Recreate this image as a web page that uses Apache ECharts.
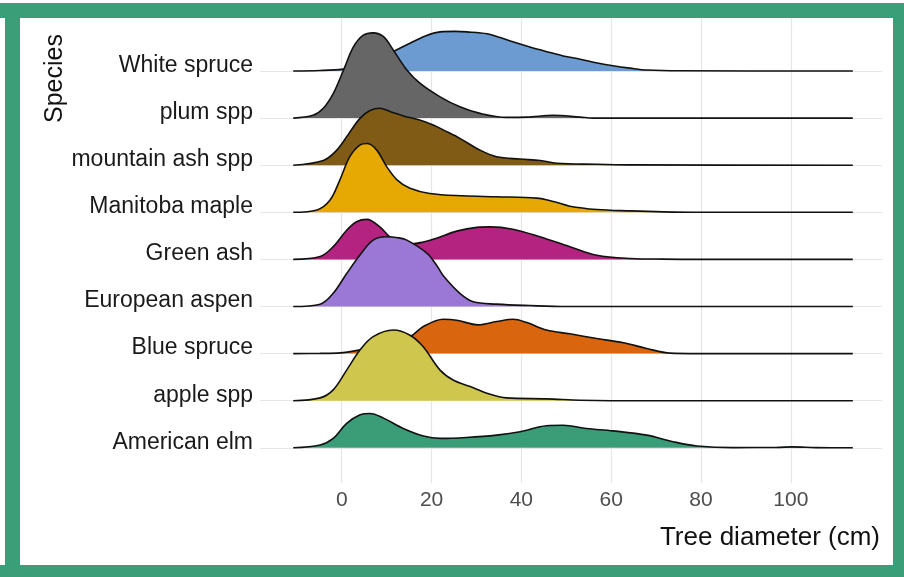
<!DOCTYPE html>
<html>
<head>
<meta charset="utf-8">
<script src="https://cdn.jsdelivr.net/npm/echarts@6/dist/echarts.min.js"></script>
<style>
html,body{margin:0;padding:0;background:#fff;}
#chart{width:904px;height:577px;}
</style>
</head>
<body>
<div id="chart"></div>
<script>
// rows listed bottom to top
const species = ['American elm','apple spp','Blue spruce','European aspen','Green ash','Manitoba maple','mountain ash spp','plum spp','White spruce'];
const fills = ['#3a9d78','#cfc64e','#d9650e','#9b78d6','#b3237f','#e6a802','#7f5b15','#666666','#6b9bd1'];
const xTicks = [0,20,40,60,80,100];

// density curves: [diameter (cm), scaled density]
const americanElm = [[-10.8,0],[-4.8,0.06],[-1.9,0.2],[1.1,0.52],[4.1,0.7],[6.3,0.73],[9.3,0.63],[13.7,0.41],[18.2,0.25],[21.9,0.2],[27.8,0.22],[34.5,0.27],[39.7,0.34],[45.6,0.47],[49.3,0.48],[54.5,0.41],[60.4,0.36],[67.9,0.27],[73.8,0.13],[79.1,0.04],[87.2,0.004],[97,0.01],[100.4,0.02],[105.6,0.004],[113.8,0]];
const appleSpp = [[-10.8,0],[-4.8,0.06],[-1.9,0.23],[1.1,0.65],[4.1,1.08],[7,1.36],[11.5,1.5],[15.2,1.39],[18.1,1.15],[21.9,0.65],[24.8,0.44],[28.6,0.3],[32.3,0.16],[36.7,0.06],[45.6,0.04],[53.1,0.01],[60,0],[113.8,0]];
const blueSpruce = [[-10.8,0],[-4.8,0.004],[-0.4,0.015],[4.1,0.08],[7.4,0.15],[10.3,0.23],[15.2,0.36],[18.1,0.57],[22.6,0.73],[25.6,0.71],[30.4,0.61],[34.5,0.68],[38.2,0.73],[41.2,0.66],[45.6,0.5],[50.8,0.42],[56.8,0.32],[62.7,0.23],[67.9,0.11],[73.1,0.01],[79.1,0],[113.8,0]];
const europeanAspen = [[-10.8,0],[-4.8,0.05],[-1.9,0.28],[1.1,0.7],[4.1,1.1],[7,1.41],[10,1.48],[12.5,1.46],[14.5,1.41],[19,1.13],[21.3,0.85],[22.8,0.63],[26.3,0.28],[29.3,0.1],[34.5,0.05],[41.9,0.02],[50,0],[113.8,0]];
const greenAsh = [[-10.8,0],[-4.8,0.06],[-1.9,0.27],[1.1,0.62],[3.3,0.8],[5.6,0.85],[8.5,0.69],[10.7,0.48],[13.4,0.35],[15.7,0.33],[18.2,0.37],[21.1,0.45],[25.6,0.6],[30.1,0.68],[33,0.69],[38.1,0.64],[44.1,0.48],[50.8,0.27],[56.8,0.09],[64.3,0.02],[71.5,0.006],[80,0],[113.8,0]];
const manitobaMaple = [[-10.8,0],[-5.5,0.05],[-2.6,0.26],[-0.4,0.69],[1.8,1.18],[4.1,1.43],[5.7,1.46],[7.8,1.32],[10,0.97],[12.3,0.69],[15.2,0.51],[19.6,0.4],[27,0.35],[34.5,0.33],[43.4,0.3],[47.1,0.23],[50.8,0.13],[56.8,0.06],[64.3,0.03],[71.5,0.01],[80,0],[113.8,0]];
const mountainAshSpp = [[-10.8,0],[-4.1,0.1],[-1.1,0.32],[1.5,0.66],[4.1,1.0],[6.3,1.16],[8.5,1.21],[10.7,1.14],[13.9,1.04],[17,0.97],[20.5,0.85],[22.8,0.74],[26.3,0.57],[30.8,0.32],[34.5,0.18],[39.7,0.13],[44.2,0.1],[47.9,0.04],[56.8,0.02],[65,0.006],[113.8,0]];
const plumSpp = [[-10.8,0],[-6.4,0.06],[-4.1,0.21],[-1.9,0.52],[0.4,1.02],[2.6,1.51],[4.8,1.76],[7,1.81],[9.3,1.73],[11.5,1.44],[14.5,1.02],[17.4,0.74],[21.9,0.45],[26.3,0.24],[30.8,0.1],[36.7,0.015],[41.2,0.02],[47.1,0.06],[53.1,0.02],[56,0],[113.8,0]];
const whiteSpruce = [[-10.8,0],[-4.8,0.01],[0.3,0.04],[4.1,0.11],[7.4,0.21],[11.4,0.41],[15.2,0.59],[18.5,0.74],[21.9,0.83],[25.2,0.84],[27.9,0.83],[32.4,0.79],[35.3,0.71],[38.1,0.62],[41.9,0.51],[45.7,0.41],[49.3,0.32],[53.1,0.25],[56.9,0.17],[60.4,0.11],[64.2,0.06],[68,0.02],[75.4,0.004],[113.8,0]];

const curves = [americanElm, appleSpp, blueSpruce, europeanAspen, greenAsh, manitobaMaple, mountainAshSpp, plumSpp, whiteSpruce];
const rowValues = species.map((s, i) => i);

const series = [];
for (let i = species.length - 1; i >= 0; i--) {
  series.push({
    name: species[i],
    type: 'line',
    data: curves[i].map(p => [p[0], i + p[1]]),
    smooth: 0.35,
    symbol: 'none',
    z: 10 + (species.length - i),
    lineStyle: { color: '#111', width: 1.6 },
    areaStyle: { color: fills[i], opacity: 1, origin: i },
    silent: true
  });
}

const chart = echarts.init(document.getElementById('chart'), null, { renderer: 'canvas' });
chart.setOption({
  backgroundColor: '#ffffff',
  animation: false,
  grid: { left: 260, right: 22, top: 18, bottom: 94 },
  xAxis: {
    type: 'value', min: -18.2, max: 120.3,
    axisLine: { show: false },
    axisTick: { show: false, customValues: xTicks },
    axisLabel: { customValues: xTicks, fontSize: 21, color: '#4d4d4d', margin: 7, fontFamily: 'Liberation Sans, Arial, sans-serif' },
    splitLine: { show: true, lineStyle: { color: '#e6e6e6', width: 1.2 } }
  },
  yAxis: {
    type: 'value', min: -0.747, max: 9.125,
    axisLine: { show: false },
    axisTick: { show: false, customValues: rowValues },
    axisLabel: {
      customValues: rowValues,
      formatter: v => species[Math.round(v)],
      fontSize: 23, color: '#1a1a1a', margin: 7,
      verticalAlign: 'bottom', lineHeight: 11,
      fontFamily: 'Liberation Sans, Arial, sans-serif'
    },
    splitLine: { show: true, lineStyle: { color: '#e6e6e6', width: 1.2 } }
  },
  graphic: [
    { type: 'rect', z: -10, shape: { x: 0, y: 3, width: 904, height: 15 }, style: { fill: '#3a9f79' }, silent: true },
    { type: 'rect', z: -10, shape: { x: 5, y: 3, width: 15, height: 574 }, style: { fill: '#3a9f79' }, silent: true },
    { type: 'rect', z: -10, shape: { x: 893, y: 3, width: 11, height: 574 }, style: { fill: '#3a9f79' }, silent: true },
    { type: 'rect', z: -10, shape: { x: 0, y: 565, width: 904, height: 12 }, style: { fill: '#3a9f79' }, silent: true },
    { type: 'text', x: 55, y: 123, rotation: Math.PI / 2, z: 5,
      style: { text: 'Species', fontSize: 25, fill: '#111', textAlign: 'left', textVerticalAlign: 'middle', fontFamily: 'Liberation Sans, Arial, sans-serif' } },
    { type: 'text', x: 880, y: 538, z: 5,
      style: { text: 'Tree diameter (cm)', fontSize: 26, fill: '#111', textAlign: 'right', textVerticalAlign: 'middle', fontFamily: 'Liberation Sans, Arial, sans-serif' } }
  ],
  series: series
});
</script>
</body>
</html>
